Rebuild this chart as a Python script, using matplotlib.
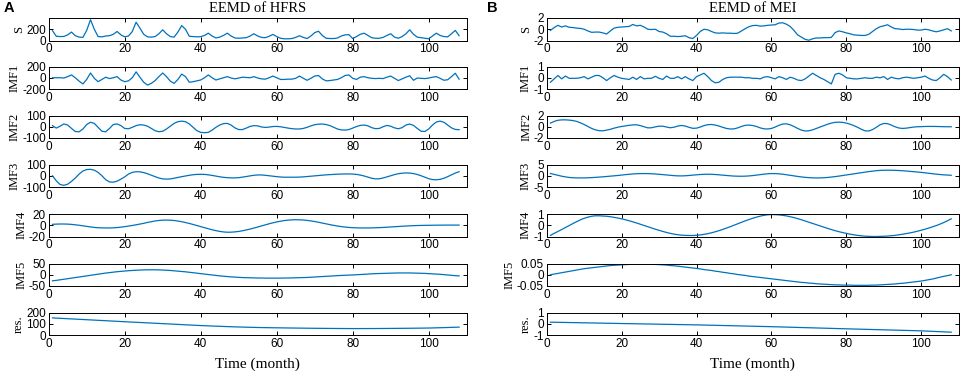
import numpy as np
import matplotlib
matplotlib.use("Agg")
import matplotlib.pyplot as plt

plt.rcParams['axes.unicode_minus'] = False

blue = "#0072BD"

months = np.arange(1, 109)

# ---- HFRS (left panel) ----
hfrs_s = [175, 75, 70, 72, 100, 150, 85, 60, 55, 180, 370, 200, 70, 65, 80, 85, 110, 160, 100, 65,
          80, 160, 325, 220, 110, 65, 60, 70, 120, 190, 120, 70, 60, 150, 265, 200, 75, 70, 65, 68,
          90, 130, 80, 45, 60, 90, 130, 80, 45, 40, 45, 50, 80, 120, 80, 55, 50, 75, 108, 70,
          40, 30, 30, 35, 55, 85, 55, 35, 80, 140, 165, 90, 40, 35, 35, 45, 80, 100, 105, 35,
          70, 110, 130, 90, 50, 40, 40, 55, 90, 120, 60, 40, 70, 120, 190, 110, 60, 50, 40, 30,
          80, 130, 90, 70, 65, 120, 180, 85]
hfrs_imf1 = [0, 0, 0, -5, 20, 50, 0, -60, -110, -30, 85, -10, -70, -30, 10, -15, 0, 20, -40, -70,
             -55, 0, 105, 10, -80, -130, -100, -50, 20, 85, 20, -60, -100, -30, 65, 20, -80, -70, -55, -40,
             0, 50, 0, -40, -20, 0, 20, -5, -20, -5, 10, 5, 0, 20, -5, -20, -25, 0, 30, 0,
             -30, -30, -25, -25, -10, 30, -10, -45, -10, 30, 40, -20, -55, -50, -40, -30, 0, 40, 50, -10,
             -30, 10, 20, 0, -10, -15, -10, -15, 10, 30, -10, -50, -20, 10, 35, -45, -5, -10, -15, -5,
             10, 20, -10, -45, -35, 20, 80, -25]
hfrs_imf2 = [10, -12, 5, 25, 15, -15, -42, -45, -20, 20, 40, 30, -5, -40, -45, -15, 20, 25, 10, -15,
             -18, -5, 10, 18, 15, 5, -15, -35, -44, -40, -20, 5, 30, 45, 50, 45, 25, -5, -35, -50,
             -53, -50, -30, -5, 15, 28, 30, 15, -10, -25, -25, -12, 3, 10, 8, -2, -6, -3, 2, 3,
             0, -6, -12, -17, -20, -20, -15, -5, 8, 18, 23, 24, 20, 10, -5, -20, -28, -30, -25, -12,
             2, 12, 15, 8, -8, -17, -15, 0, 12, 5, -10, -18, -8, 15, 24, 12, -15, -40, -42, -20,
             15, 42, 50, 40, 15, -10, -24, -26]
hfrs_imf3 = [0, -45, -78, -85, -75, -50, -20, 15, 42, 55, 57, 50, 30, 0, -35, -55, -57, -48, -30, -10,
             15, 30, 36, 35, 28, 18, 5, -8, -20, -28, -30, -28, -22, -15, -8, -2, 4, 9, 12, 13,
             12, 8, 3, -3, -9, -14, -17, -19, -19, -17, -12, -7, -1, 4, 7, 7, 4, 0, -4, -8,
             -11, -13, -13, -13, -13, -12, -10, -7, -4, -1, 2, 5, 8, 10, 12, 14, 15, 16, 16, 15,
             12, 6, -2, -12, -22, -28, -27, -20, -10, 0, 10, 18, 23, 25, 24, 19, 11, 0, -13, -26,
             -34, -36, -32, -22, -8, 8, 24, 36]
hfrs_imf4 = [1.6, 2.0, 2.2, 2.2, 2.0, 1.5, 0.8, 0, -1, -2, -3, -3.8, -4.4, -4.7, -4.8, -4.8, -4.6, -4.1, -3.4, -2.5,
             -1.5, -0.4, 0.8, 2.1, 3.4, 5.0, 6.3, 7.6, 8.5, 9.1, 9.2, 9.0, 8.4, 7.5, 6.3, 4.8, 3.2, 1.4, -0.5, -2.4,
             -4.3, -6.2, -8.0, -9.6, -10.9, -11.9, -12.4, -12.3, -11.8, -11.0, -9.8, -8.4, -6.8, -5.0, -3.1, -1.2, 0.7, 2.6, 4.3, 5.9,
             7.2, 8.3, 9.1, 9.6, 9.8, 9.7, 9.3, 8.6, 7.7, 6.6, 5.3, 3.9, 2.5, 1.1, -0.2, -1.4, -2.4, -3.2, -3.9, -4.3,
             -4.6, -4.8, -4.8, -4.8, -4.7, -4.5, -4.2, -3.9, -3.5, -3.1, -2.6, -2.2, -1.8, -1.4, -1.0, -0.7, -0.5, -0.3, -0.2, -0.1,
             0, 0.1, 0.2, 0.2, 0.3, 0.3, 0.3, 0.3]
hfrs_imf5 = [-27, -25, -22.5, -20, -17.5, -15, -12.5, -10, -7.5, -5, -2.5, 0, 2.5, 5, 7.5, 9.5, 11.5, 13.5, 15, 16.5,
             18, 19, 20, 21, 21.5, 22, 22, 22, 21.5, 21, 20, 19, 17.5, 16, 14.5, 13, 11, 9, 7, 5,
             3, 1, -1, -3, -5, -6.5, -8, -9.5, -10.5, -11.5, -12.5, -13, -13.5, -14, -14.5, -14.5, -15, -15, -15, -15,
             -15, -14.5, -14.5, -14, -13.5, -13, -12.5, -12, -11, -10, -9, -8, -7, -6, -5, -4, -3, -2.5, -1.5, -1,
             0, 1, 2, 3, 4, 5, 5.5, 6, 6.5, 7, 7.5, 8, 8, 8, 8, 7.5, 7, 6.5, 6, 5,
             4, 3, 2, 0.5, -1, -2.5, -4, -5]
hfrs_res = [152, 150.2, 148.4, 146.6, 144.8, 143.1, 141.3, 139.5, 137.7, 135.9, 134.1, 132.3, 130.5, 128.8, 127, 125.2, 123.4, 121.6, 119.8, 118,
            116.3, 114.6, 112.9, 111.2, 109.5, 107.8, 106.1, 104.4, 102.7, 101, 99.3, 97.6, 95.9, 94.2, 92.5, 90.8, 89.1, 87.4, 85.7, 84,
            82.6, 81.2, 79.8, 78.5, 77.2, 75.9, 74.7, 73.5, 72.4, 71.3, 70.3, 69.3, 68.4, 67.6, 66.8, 66.1, 65.5, 64.9, 64.4, 64,
            63.5, 63, 62.5, 62, 61.6, 61.2, 60.8, 60.4, 60, 59.6, 59.3, 59, 58.7, 58.4, 58.1, 57.8, 57.6, 57.4, 57.2, 57,
            57, 57.1, 57.2, 57.3, 57.4, 57.6, 57.8, 58, 58.2, 58.4, 58.7, 59, 59.3, 59.6, 59.9, 60.3, 60.7, 61.1, 61.5, 62,
            62.8, 63.7, 64.7, 65.7, 66.7, 67.8, 68.9, 70]

# ---- MEI (right panel) ----
mei_s = [-0.2, 0.3, 0.7, 0.4, 0.6, 0.35, 0.3, 0.2, 0.15, 0.0, -0.3, -0.55, -0.5, -0.5, -0.65, -0.85, -0.3, 0.2, 0.35, 0.4,
         0.45, 0.5, 0.85, 0.6, 0.7, 0.4, 0.0, -0.05, 0.0, -0.4, -0.5, -0.8, -1.25, -1.25, -1.3, -1.25, -1.15, -1.5, -1.65, -1.1,
         -0.4, 0.0, -0.1, -0.4, -0.65, -0.7, -0.65, -0.7, -0.7, -0.75, -0.7, -0.3, 0.1, 0.45, 0.65, 0.7, 0.55, 0.6, 0.7, 0.75,
         0.8, 1.1, 1.15, 0.9, 0.5, -0.2, -1.0, -1.4, -1.8, -1.95, -1.7, -1.55, -1.55, -1.5, -1.5, -1.45, -0.6, -0.3, -0.45, -0.65,
         -0.8, -1.0, -1.05, -1.1, -1.1, -0.9, -0.4, 0.1, 0.45, 0.6, 0.8, 0.4, 0.1, 0.05, -0.05, 0.0, 0.0, -0.05, -0.15, -0.15,
         0.0, -0.1, -0.3, -0.45, -0.3, -0.1, 0.1, -0.3]
mei_imf1 = [-0.4, -0.1, 0.2, -0.1, 0.15, -0.05, -0.05, -0.05, 0.0, 0.1, -0.1, 0.05, 0.2, 0.2, 0.0, -0.25, 0.0, 0.2, 0.05, -0.05,
            -0.1, -0.15, 0.05, -0.15, 0.1, -0.1, -0.05, -0.05, 0.13, -0.05, -0.15, 0.15, -0.05, -0.05, 0.1, -0.1, 0.1, -0.1, -0.25, 0.1,
            0.25, 0.4, 0.1, -0.25, -0.45, -0.4, -0.15, 0.0, 0.05, 0.05, 0.05, 0.05, 0.0, 0.0, -0.05, -0.05, -0.1, 0.05, 0.1, 0.0,
            -0.1, 0.1, 0.0, -0.15, 0.05, -0.05, -0.2, -0.25, -0.1, 0.15, 0.4, 0.2, 0.0, -0.15, -0.35, -0.55, 0.3, 0.4, 0.25, 0.0,
            -0.05, -0.1, -0.1, -0.05, 0.0, -0.05, -0.05, 0.05, 0.0, 0.1, -0.15, 0.05, -0.05, -0.1, 0.0, 0.05, 0.0, -0.05, 0.0, 0.05,
            0.15, -0.05, -0.2, -0.25, 0.0, 0.3, 0.1, -0.2]
mei_imf2 = [0.65, 0.95, 1.15, 1.22, 1.23, 1.18, 1.1, 0.95, 0.7, 0.4, 0.05, -0.3, -0.55, -0.7, -0.72, -0.6, -0.45, -0.25, -0.08, 0.05,
            0.15, 0.25, 0.33, 0.35, 0.2, 0.0, -0.2, -0.18, -0.02, 0.1, 0.1, -0.05, -0.18, -0.08, 0.12, 0.23, 0.12, -0.1, -0.28, -0.25,
            -0.05, 0.2, 0.37, 0.4, 0.3, 0.12, -0.1, -0.3, -0.4, -0.38, -0.2, 0.05, 0.25, 0.3, 0.22, 0.05, -0.2, -0.37, -0.4, -0.3,
            -0.05, 0.25, 0.48, 0.52, 0.35, 0.05, -0.3, -0.6, -0.76, -0.72, -0.55, -0.3, -0.05, 0.2, 0.45, 0.65, 0.78, 0.82, 0.78, 0.65,
            0.45, 0.2, -0.1, -0.45, -0.72, -0.75, -0.5, -0.1, 0.35, 0.58, 0.55, 0.3, 0.0, -0.22, -0.3, -0.25, -0.15, -0.05, 0.0, 0.02,
            0.05, 0.06, 0.06, 0.05, 0.03, 0.01, 0.0, 0.0]
mei_imf3 = [1.0, 0.6, 0.2, -0.2, -0.5, -0.75, -0.9, -0.95, -0.97, -0.95, -0.9, -0.82, -0.72, -0.6, -0.47, -0.33, -0.18, -0.03, 0.12, 0.3,
            0.5, 0.65, 0.8, 0.9, 0.95, 0.97, 0.95, 0.88, 0.78, 0.65, 0.5, 0.35, 0.2, 0.05, -0.05, -0.07, 0.0, 0.12, 0.28, 0.42,
            0.55, 0.64, 0.67, 0.64, 0.55, 0.42, 0.27, 0.12, -0.02, -0.14, -0.2, -0.22, -0.18, -0.08, 0.08, 0.28, 0.5, 0.7, 0.88, 0.97,
            0.95, 0.85, 0.68, 0.45, 0.2, -0.05, -0.3, -0.52, -0.7, -0.85, -0.94, -0.97, -0.95, -0.88, -0.75, -0.58, -0.38, -0.15, 0.1, 0.35,
            0.6, 0.85, 1.1, 1.35, 1.6, 1.85, 2.05, 2.25, 2.38, 2.44, 2.46, 2.45, 2.4, 2.32, 2.22, 2.1, 1.95, 1.8, 1.65, 1.5,
            1.3, 1.1, 0.9, 0.7, 0.55, 0.4, 0.3, 0.22]
mei_imf4 = [-0.9, -0.72, -0.55, -0.38, -0.2, -0.03, 0.15, 0.32, 0.48, 0.62, 0.72, 0.8, 0.84, 0.84, 0.82, 0.8, 0.76, 0.7, 0.64, 0.57,
            0.49, 0.4, 0.3, 0.2, 0.09, -0.02, -0.13, -0.24, -0.35, -0.45, -0.55, -0.64, -0.72, -0.79, -0.84, -0.88, -0.9, -0.91, -0.91, -0.89,
            -0.86, -0.81, -0.75, -0.67, -0.58, -0.48, -0.37, -0.25, -0.13, 0.0, 0.13, 0.26, 0.39, 0.51, 0.62, 0.72, 0.81, 0.88, 0.93, 0.95,
            0.94, 0.92, 0.88, 0.83, 0.76, 0.68, 0.59, 0.49, 0.38, 0.27, 0.16, 0.05, -0.06, -0.17, -0.28, -0.38, -0.48, -0.57, -0.65, -0.72,
            -0.79, -0.85, -0.9, -0.94, -0.97, -0.99, -1.0, -1.0, -0.99, -0.98, -0.96, -0.93, -0.9, -0.85, -0.8, -0.74, -0.68, -0.61, -0.53, -0.44,
            -0.35, -0.25, -0.14, -0.03, 0.1, 0.24, 0.4, 0.57]
mei_imf5 = [0.0, 0.003, 0.006, 0.009, 0.012, 0.015, 0.018, 0.021, 0.024, 0.027, 0.029, 0.031, 0.033, 0.035, 0.037, 0.039, 0.041, 0.042, 0.043, 0.044,
            0.045, 0.046, 0.046, 0.047, 0.047, 0.047, 0.047, 0.046, 0.046, 0.045, 0.044, 0.043, 0.041, 0.04, 0.038, 0.036, 0.034, 0.032, 0.03, 0.028,
            0.026, 0.023, 0.021, 0.019, 0.016, 0.014, 0.011, 0.009, 0.006, 0.004, 0.001, -0.001, -0.003, -0.006, -0.008, -0.01, -0.012, -0.014, -0.016, -0.018,
            -0.02, -0.022, -0.024, -0.026, -0.028, -0.03, -0.032, -0.034, -0.035, -0.037, -0.038, -0.04, -0.041, -0.042, -0.043, -0.044, -0.045, -0.045, -0.046, -0.046,
            -0.046, -0.047, -0.047, -0.047, -0.047, -0.047, -0.046, -0.046, -0.045, -0.044, -0.043, -0.042, -0.041, -0.039, -0.038, -0.036, -0.034, -0.032, -0.03, -0.028,
            -0.025, -0.022, -0.019, -0.015, -0.011, -0.007, -0.004, 0.0]
mei_res = [0.14, 0.134, 0.127, 0.121, 0.115, 0.108, 0.102, 0.096, 0.089, 0.083, 0.077, 0.071, 0.064, 0.058, 0.052, 0.045, 0.039, 0.033, 0.026, 0.02,
           0.014, 0.008, 0.002, -0.004, -0.01, -0.016, -0.022, -0.028, -0.034, -0.04, -0.046, -0.052, -0.058, -0.064, -0.07, -0.076, -0.082, -0.088, -0.094, -0.1,
           -0.108, -0.116, -0.124, -0.132, -0.14, -0.148, -0.156, -0.164, -0.172, -0.18, -0.188, -0.196, -0.204, -0.212, -0.22, -0.228, -0.236, -0.244, -0.252, -0.26,
           -0.27, -0.279, -0.289, -0.298, -0.308, -0.317, -0.327, -0.336, -0.346, -0.355, -0.365, -0.374, -0.384, -0.393, -0.403, -0.412, -0.422, -0.431, -0.441, -0.45,
           -0.459, -0.468, -0.477, -0.486, -0.495, -0.504, -0.513, -0.522, -0.531, -0.54, -0.549, -0.558, -0.567, -0.576, -0.585, -0.594, -0.603, -0.612, -0.621, -0.63,
           -0.645, -0.66, -0.675, -0.69, -0.705, -0.72, -0.735, -0.75]

row_labels = ["S", "IMF1", "IMF2", "IMF3", "IMF4", "IMF5", "res."]

hfrs_series = [hfrs_s, hfrs_imf1, hfrs_imf2, hfrs_imf3, hfrs_imf4, hfrs_imf5, hfrs_res]
hfrs_ylims = [(0, 400), (-200, 200), (-100, 100), (-100, 100), (-20, 20), (-50, 50), (0, 200)]
hfrs_yticks = [[0, 200], [-200, 0, 200], [-100, 0, 100], [-100, 0, 100], [-20, 0, 20], [-50, 0, 50], [0, 100, 200]]

mei_series = [mei_s, mei_imf1, mei_imf2, mei_imf3, mei_imf4, mei_imf5, mei_res]
mei_ylims = [(-2, 2), (-1, 1), (-2, 2), (-5, 5), (-1, 1), (-0.05, 0.05), (-1, 1)]
mei_yticks = [[-2, 0, 2], [-1, 0, 1], [-2, 0, 2], [-5, 0, 5], [-1, 0, 1], [-0.05, 0, 0.05], [-1, 0, 1]]

xticks = [0, 20, 40, 60, 80, 100]

W, H = 964, 376
fig = plt.figure(figsize=(W / 100, H / 100), dpi=100)

tops = [18, 66.5, 115.5, 164.5, 214, 263.5, 312.5]
ah = 22.5

sans = "Liberation Sans"
serif = "Liberation Serif"


def draw_column(x0, w, series, ylims, yticks):
    for i in range(7):
        ax = fig.add_axes([x0 / W, 1 - (tops[i] + ah) / H, w / W, ah / H])
        ax.plot(months, series[i], color=blue, lw=0.9)
        ax.set_xlim(0, 110)
        ax.set_ylim(*ylims[i])
        ax.set_xticks(xticks)
        ax.set_yticks(yticks[i])
        ax.set_yticklabels([("%g" % v) for v in yticks[i]])
        ax.tick_params(direction="in", top=True, right=True, length=3, width=0.7,
                       labelsize=8.5, pad=2)
        for lab in ax.get_xticklabels() + ax.get_yticklabels():
            lab.set_fontfamily(sans)
        for sp in ax.spines.values():
            sp.set_linewidth(0.7)
        ax.set_ylabel(row_labels[i], fontfamily=serif, fontsize=9, labelpad=1)
    return ax


ax_l = draw_column(48.7, 418, hfrs_series, hfrs_ylims, hfrs_yticks)
ax_r = draw_column(546.7, 412, mei_series, mei_ylims, mei_yticks)

fig.text((48.7 + 418 / 2) / W, 1 - 9 / H, "EEMD of HFRS", ha="center", va="center",
         fontfamily=serif, fontsize=10.5)
fig.text((546.7 + 412 / 2) / W, 1 - 9 / H, "EEMD of MEI", ha="center", va="center",
         fontfamily=serif, fontsize=10.5)
fig.text((48.7 + 418 / 2) / W, 1 - 364 / H, "Time (month)", ha="center", va="center",
         fontfamily=serif, fontsize=11)
fig.text((546.7 + 412 / 2) / W, 1 - 364 / H, "Time (month)", ha="center", va="center",
         fontfamily=serif, fontsize=11)
fig.text(4 / W, 1 - 8 / H, "A", ha="left", va="center", fontfamily=sans,
         fontsize=10.5, fontweight="bold")
fig.text(487 / W, 1 - 8 / H, "B", ha="left", va="center", fontfamily=sans,
         fontsize=10.5, fontweight="bold")

fig.savefig("out.png", dpi=100)
